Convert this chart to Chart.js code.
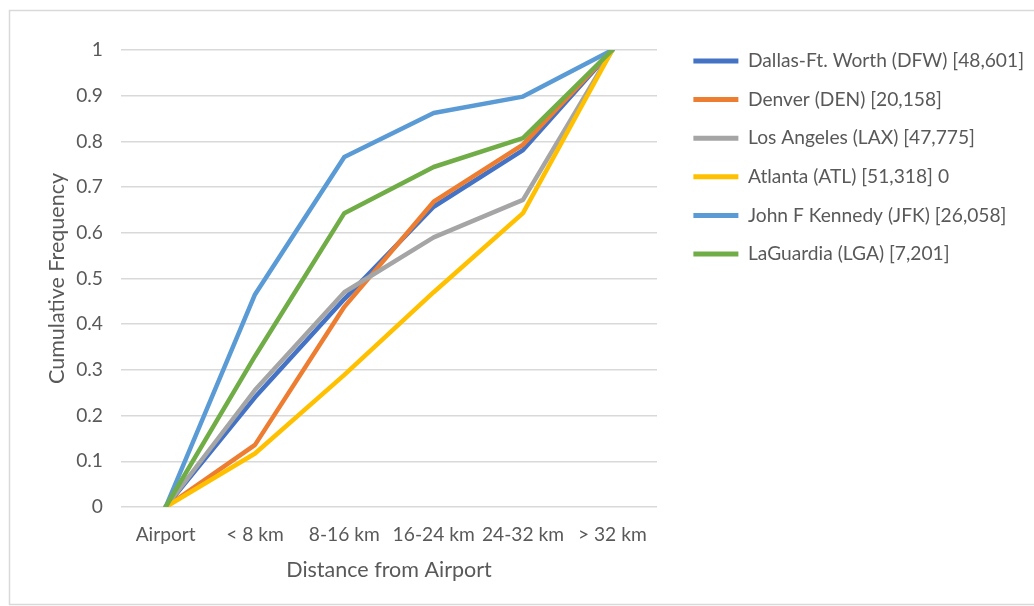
<!DOCTYPE html>
<html>
<head>
<meta charset="utf-8">
<script src="https://cdn.jsdelivr.net/npm/chart.js@4/dist/chart.umd.min.js"></script>
<style>
  html, body { margin: 0; padding: 0; background: #ffffff; }
  #frame { position: absolute; left: 0; top: 0; width: 1034px; height: 606px; }
</style>
</head>
<body>
<div id="frame"><canvas id="c" width="1034" height="606"></canvas></div>
<script>
// Distance bands from the airport
const categories = ['Airport', '< 8 km', '8-16 km', '16-24 km', '24-32 km', '> 32 km'];

// Series names (with trip counts)
const seriesNames = [
  'Dallas-Ft. Worth (DFW) [48,601]',
  'Denver (DEN) [20,158]',
  'Los Angeles (LAX) [47,775]',
  'Atlanta (ATL) [51,318] 0',
  'John F Kennedy (JFK) [26,058]',
  'LaGuardia (LGA) [7,201]'
];

// Cumulative frequency per distance band
const dfw = [0, 0.24, 0.455, 0.657, 0.781, 1];
const den = [0, 0.136, 0.438, 0.668, 0.793, 1];
const lax = [0, 0.256, 0.47, 0.59, 0.672, 1];
const atl = [0, 0.117, 0.289, 0.47, 0.643, 1];
const jfk = [0, 0.465, 0.766, 0.862, 0.898, 1];
const lga = [0, 0.33, 0.643, 0.744, 0.807, 1];

const seriesValues = [dfw, den, lax, atl, jfk, lga];
const seriesColors = ['#4472C4', '#ED7D31', '#A5A5A5', '#FFC000', '#5B9BD5', '#70AD47'];

const yTicks = [0, 0.1, 0.2, 0.3, 0.4, 0.5, 0.6, 0.7, 0.8, 0.9, 1];

const FONT = 'Lato, "Open Sans", sans-serif';
const TEXT = '#595959';
const LABEL_SIZE = 19.2;
const TITLE_SIZE = 21.5;

// Light frame around the chart
const framePlugin = {
  id: 'frame',
  beforeDraw(chart) {
    const ctx = chart.ctx;
    ctx.save();
    ctx.fillStyle = '#ffffff';
    ctx.fillRect(0, 0, chart.width, chart.height);
    ctx.strokeStyle = '#d9d9d9';
    ctx.lineWidth = 1.5;
    ctx.strokeRect(9.5, 10.5, chart.width + 10, chart.height - 12);
    ctx.restore();
  }
};

// Nudge the legend block: up to the top gridline and a little away from the plot
const legendShift = {
  id: 'legendShift',
  afterLayout(chart) {
    const lg = chart.legend;
    if (!lg) return;
    const dx = 17, dy = -18;
    lg.left += dx;
    lg.right += dx;
    lg.top += dy;
    lg.bottom += dy;
  }
};

const datasets = seriesNames.map((name, i) => ({
  label: name,
  data: seriesValues[i],
  borderColor: seriesColors[i],
  backgroundColor: seriesColors[i],
  borderWidth: 4.5,
  pointRadius: 0,
  tension: 0,
  fill: false,
  order: seriesNames.length - i,
  borderCapStyle: 'round',
  borderJoinStyle: 'round'
}));

new Chart(document.getElementById('c'), {
  type: 'line',
  data: { labels: categories, datasets },
  plugins: [framePlugin, legendShift],
  options: {
    responsive: false,
    animation: false,
    devicePixelRatio: 1,
    layout: { padding: { left: 40, top: 50, right: 17, bottom: 23 } },
    plugins: {
      tooltip: { enabled: false },
      legend: {
        position: 'right',
        align: 'start',
        maxWidth: 420,
        labels: {
          color: TEXT,
          font: { family: FONT, size: LABEL_SIZE },
          boxWidth: 45,
          boxHeight: 5,
          padding: 19.4,
          sort: (a, b) => a.datasetIndex - b.datasetIndex,
          generateLabels(chart) {
            return chart.data.datasets.map((ds, i) => ({
              text: ds.label,
              fillStyle: ds.borderColor,
              strokeStyle: ds.borderColor,
              lineWidth: 0,
              fontColor: TEXT,
              hidden: false,
              datasetIndex: i
            }));
          }
        }
      }
    },
    scales: {
      x: {
        offset: true,
        grid: { display: false, drawTicks: false },
        border: { display: false },
        ticks: { color: TEXT, font: { family: FONT, size: LABEL_SIZE }, padding: 16, maxRotation: 0, autoSkip: false },
        title: { display: true, text: 'Distance from Airport', color: TEXT, font: { family: FONT, size: TITLE_SIZE }, padding: { top: 0, bottom: 0 } },
        afterFit(axis) { axis.height = 76; }
      },
      y: {
        min: 0,
        max: 1,
        afterBuildTicks(axis) { axis.ticks = yTicks.map(v => ({ value: v })); },
        grid: { color: '#d9d9d9', lineWidth: 1.5, drawTicks: false },
        border: { display: false },
        ticks: { color: TEXT, font: { family: FONT, size: LABEL_SIZE }, padding: 18, callback: v => String(v) },
        title: { display: true, text: 'Cumulative Frequency', color: TEXT, font: { family: FONT, size: TITLE_SIZE }, padding: { top: 4, bottom: 0 } },
        afterFit(axis) { axis.width = 81; }
      }
    }
  }
});
</script>
</body>
</html>
